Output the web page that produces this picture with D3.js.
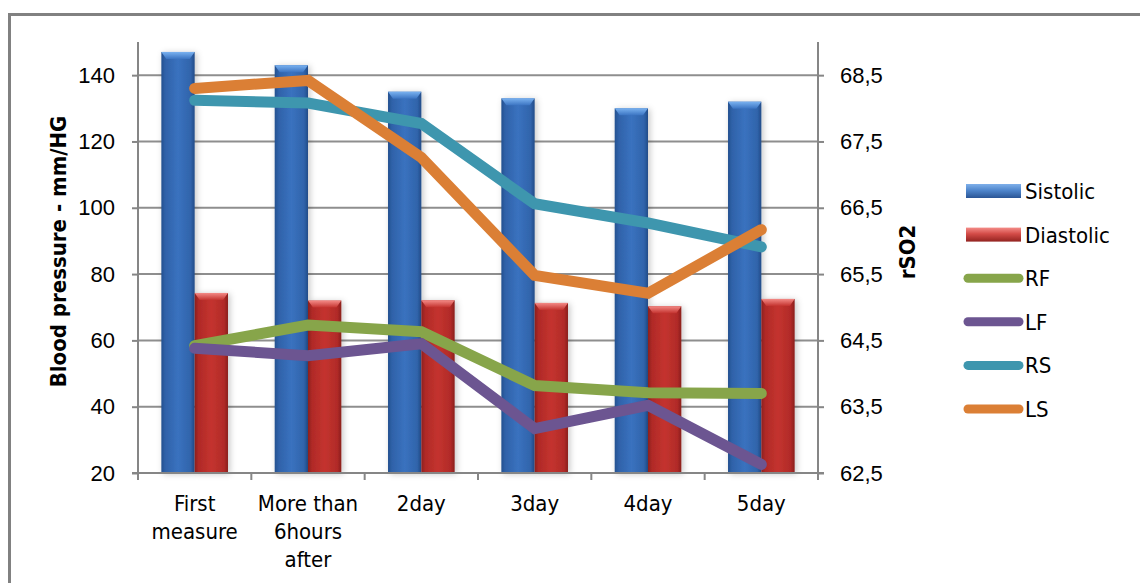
<!DOCTYPE html>
<html>
<head>
<meta charset="utf-8">
<script src="https://cdn.jsdelivr.net/npm/d3@7"></script>
<style>
  html, body { margin: 0; padding: 0; background: #fff; }
  svg { display: block; font-family: "DejaVu Sans Condensed", "Liberation Sans", "DejaVu Sans", sans-serif; }
</style>
</head>
<body>
<svg id="chart" width="1140" height="583"></svg>
<script>
// ---- data ----
const categories = ["First\nmeasure", "More than\n6hours\nafter", "2day", "3day", "4day", "5day"];
const sistolic  = [147, 143, 135, 133, 130, 132];
const diastolic = [74.3, 72, 72.1, 71.3, 70.3, 72.5];
const rfValues  = [64.42, 64.73, 64.63, 63.82, 63.71, 63.70];
const lfValues  = [64.38, 64.27, 64.45, 63.17, 63.52, 62.63];
const rsValues  = [68.12, 68.08, 67.77, 66.56, 66.27, 65.91];
const lsValues  = [68.30, 68.42, 67.26, 65.48, 65.21, 66.17];
const leftTicks  = [20, 40, 60, 80, 100, 120, 140];
const rightTicks = [62.5, 63.5, 64.5, 65.5, 66.5, 67.5, 68.5];
const barSeries  = ["Sistolic", "Diastolic"];
const lineSeries = ["RF", "LF", "RS", "LS"];

const barData = [sistolic, diastolic];
const lineData = [rfValues, lfValues, rsValues, lsValues];
const lineColors = ["#87a54a", "#6c5591", "#3e96ae", "#db7f35"];

// ---- layout ----
const svg = d3.select("#chart");
const plot = { left: 138, right: 818, top: 42, bottom: 473 };
const axisColor = "#868686";

const x0 = d3.scaleBand().domain(categories)
  .range([plot.left, plot.right]).paddingInner(0.412).paddingOuter(0.206);
const x1 = d3.scaleBand().domain(barSeries).range([0, x0.bandwidth()]).padding(0);
const yL = d3.scaleLinear().domain([20, 150]).range([plot.bottom, plot.top]);
const yR = d3.scaleLinear().domain([62.5, 69]).range([plot.bottom, plot.top]);

// ---- defs: bar shading ----
const defs = svg.append("defs");
function hGrad(id, stops) {
  const g = defs.append("linearGradient").attr("id", id)
    .attr("x1", "0").attr("x2", "1").attr("y1", "0").attr("y2", "0");
  stops.forEach(([o, c]) => g.append("stop").attr("offset", o).attr("stop-color", c));
}
function vGrad(id, stops) {
  const g = defs.append("linearGradient").attr("id", id)
    .attr("x1", "0").attr("x2", "0").attr("y1", "0").attr("y2", "1");
  stops.forEach(([o, c]) => g.append("stop").attr("offset", o).attr("stop-color", c));
}
hGrad("body0", [["0", "#24508f"], ["0.12", "#2f62a9"], ["0.5", "#3a72bf"], ["0.88", "#3064ab"], ["1", "#234c88"]]);
hGrad("body1", [["0", "#8c1f1d"], ["0.12", "#b02a27"], ["0.5", "#c4332f"], ["0.88", "#b12b28"], ["1", "#8a1e1c"]]);
vGrad("cap0", [["0", "#7ab2f0"], ["1", "#3b74c2"]]);
vGrad("cap1", [["0", "#f38a86"], ["1", "#c4332f"]]);
vGrad("key0", [["0", "#7fb0ea"], ["0.45", "#4f86cc"], ["1", "#2a5595"]]);
vGrad("key1", [["0", "#f48c88"], ["0.45", "#d34b47"], ["1", "#922320"]]);

const shadow = defs.append("filter").attr("id", "barShadow")
  .attr("x", "-40%").attr("y", "-10%").attr("width", "180%").attr("height", "120%");
shadow.append("feDropShadow").attr("dx", 2).attr("dy", 1)
  .attr("stdDeviation", 3).attr("flood-color", "#000").attr("flood-opacity", 0.22);

// ---- outer frame ----
svg.append("path")
  .attr("d", `M9.5,${583 + 5} V14.5 H${1140 + 5}`)
  .attr("fill", "none").attr("stroke", "#818181").attr("stroke-width", 3);

// ---- gridlines ----
svg.append("g").selectAll("line").data(leftTicks).join("line")
  .attr("x1", plot.left).attr("x2", plot.right)
  .attr("y1", d => yL(d)).attr("y2", d => yL(d))
  .attr("stroke", "#8e8e8e").attr("stroke-width", 2);

// ---- bars ----
const groups = svg.append("g").selectAll("g").data(categories).join("g")
  .attr("transform", d => `translate(${x0(d)},0)`);

groups.each(function (cat, ci) {
  const g = d3.select(this);
  barSeries.forEach((s, si) => {
    const v = barData[si][ci];
    const bx = x1(s), bw = x1.bandwidth();
    const by = yL(v), bh = yL(20) - yL(v);
    g.append("rect").attr("x", bx).attr("y", by).attr("width", bw).attr("height", bh)
      .attr("fill", `url(#body${si})`).attr("filter", "url(#barShadow)");
    const capH = 7, inset = 5;
    g.append("path")
      .attr("d", `M${bx},${by} H${bx + bw} L${bx + bw - inset},${by + capH} H${bx + inset} Z`)
      .attr("fill", `url(#cap${si})`);
  });
});

// ---- axes ----
const axL = svg.append("g").attr("transform", `translate(${plot.left},0)`)
  .call(d3.axisLeft(yL).tickValues(leftTicks).tickSize(6).tickPadding(17).tickFormat(d3.format("d")));
const axR = svg.append("g").attr("transform", `translate(${plot.right},0)`)
  .call(d3.axisRight(yR).tickValues(rightTicks).tickSize(6).tickPadding(16)
    .tickFormat(d => d.toFixed(1).replace(".", ",")));
const axB = svg.append("g").attr("transform", `translate(0,${plot.bottom})`)
  .call(d3.axisBottom(x0).tickSize(0).tickFormat(""));

[axL, axR, axB].forEach(a => {
  a.select(".domain").attr("stroke", axisColor).attr("stroke-width", 2);
  a.selectAll(".tick line").attr("stroke", axisColor).attr("stroke-width", 2);
  a.selectAll(".tick text").attr("fill", "#000").style("font-size", "22px");
});
axL.select(".domain").attr("d", `M0,${plot.top}V${plot.bottom}`);
axR.select(".domain").attr("d", `M0,${plot.top}V${plot.bottom}`);
axB.select(".domain").attr("d", `M${plot.left - 6},0H${plot.right + 6}`);

// category separators on the bottom axis
const bounds = d3.range(categories.length + 1).map(i => plot.left + i * x0.step());
axB.append("g").selectAll("line").data(bounds).join("line")
  .attr("x1", d => d).attr("x2", d => d).attr("y1", 0).attr("y2", 7)
  .attr("stroke", axisColor).attr("stroke-width", 2);

// category labels
const catLabels = svg.append("g").selectAll("text").data(categories).join("text")
  .attr("x", d => x0(d) + x0.bandwidth() / 2)
  .attr("y", plot.bottom + 38)
  .attr("text-anchor", "middle").attr("fill", "#000").style("font-size", "22px");
catLabels.each(function (d) {
  const t = d3.select(this);
  d.split("\n").forEach((line, i) => {
    t.append("tspan").attr("x", t.attr("x")).attr("dy", i === 0 ? 0 : 28).text(line);
  });
});

// axis titles
svg.append("text")
  .attr("transform", `translate(66,${(plot.top + plot.bottom) / 2 - 6}) rotate(-90)`)
  .attr("text-anchor", "middle").attr("font-weight", "bold").attr("fill", "#000")
  .style("font-size", "22px").text("Blood pressure - mm/HG");
svg.append("text")
  .attr("transform", `translate(915,252) rotate(-90)`)
  .attr("text-anchor", "middle").attr("font-weight", "bold").attr("fill", "#000")
  .style("font-size", "22px").text("rSO2");

// ---- lines ----
const lineGen = (vals) => d3.line()
  .x((d, i) => x0(categories[i]) + x0.bandwidth() / 2)
  .y(d => yR(d))(vals);

svg.append("g").selectAll("path").data(lineData).join("path")
  .attr("d", d => lineGen(d))
  .attr("fill", "none")
  .attr("stroke", (d, i) => lineColors[i])
  .attr("stroke-width", 11)
  .attr("stroke-linecap", "round")
  .attr("stroke-linejoin", "miter");

// ---- legend ----
const legend = svg.append("g").attr("transform", "translate(966,0)");
const legendItems = barSeries.concat(lineSeries);
const legendY = d3.scalePoint().domain(legendItems).range([191, 409]);

legendItems.forEach((name, i) => {
  const cy = legendY(name);
  if (i < barSeries.length) {
    legend.append("rect").attr("x", 0).attr("y", cy - 7).attr("width", 55).attr("height", 14)
      .attr("fill", `url(#key${i})`);
  } else {
    legend.append("line").attr("x1", 2).attr("x2", 53).attr("y1", cy).attr("y2", cy)
      .attr("stroke", lineColors[i - barSeries.length]).attr("stroke-width", 9)
      .attr("stroke-linecap", "round");
  }
  legend.append("text").attr("x", 59).attr("y", cy).attr("dy", "0.36em")
    .attr("fill", "#000").style("font-size", "22px").text(name);
});
</script>
</body>
</html>
